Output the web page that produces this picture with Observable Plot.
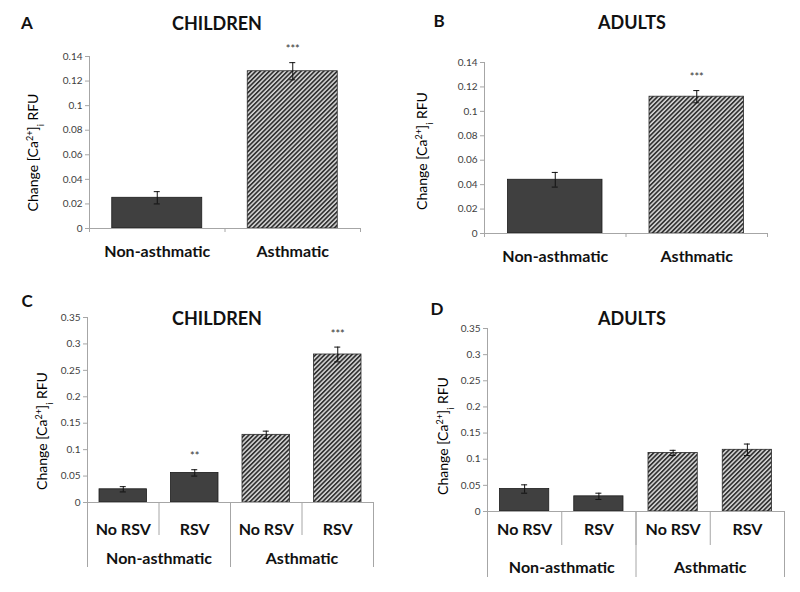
<!DOCTYPE html>
<html><head><meta charset="utf-8">
<script src="https://cdn.jsdelivr.net/npm/d3@7"></script>
<script src="https://cdn.jsdelivr.net/npm/@observablehq/plot@0.6"></script>
<style>
body{margin:0;background:#fff;font-family:Lato,sans-serif}
#root{position:relative;width:800px;height:592px;overflow:hidden;background:#fff}
.panel{position:absolute}
.lbl{position:absolute;transform:translate(-50%,-50%);font-weight:bold;color:#111;white-space:nowrap;line-height:1}
</style></head><body><div id="root"></div>
<script>
// ---- data ----
const yTicksAB = [0, 0.02, 0.04, 0.06, 0.08, 0.1, 0.12, 0.14];
const yTicksCD = [0, 0.05, 0.1, 0.15, 0.2, 0.25, 0.3, 0.35];
const groupsAB = ["Non-asthmatic", "Asthmatic"];
const childrenMean = [0.025, 0.128];
const childrenErr = [0.005, 0.007];
const childrenSig = ["", "***"];
const adultsMean = [0.044, 0.112];
const adultsErr = [0.006, 0.005];
const adultsSig = ["", "***"];
const rsvLabels = ["No RSV", "RSV", "No RSV", "RSV"];
const rsvGroups = ["Non-asthmatic", "Non-asthmatic", "Asthmatic", "Asthmatic"];
const childrenRsvMean = [0.025, 0.056, 0.128, 0.280];
const childrenRsvErr = [0.005, 0.006, 0.007, 0.014];
const childrenRsvSig = ["", "**", "", "***"];
const adultsRsvMean = [0.043, 0.029, 0.112, 0.118];
const adultsRsvErr = [0.008, 0.006, 0.005, 0.011];
const adultsRsvSig = ["", "", "", ""];
const panelLetters = ["A", "B", "C", "D"];
const panelTitles = ["CHILDREN", "ADULTS", "CHILDREN", "ADULTS"];
const yLabel = "Change [Ca2+]i RFU";

// ---- layout ----
const AXIS = "#a6a6a6";
const panels = [
  {id:"A", left:0, top:0, width:400, height:280, ml:89, mr:40, mt:56, mb:52, yTicks:yTicksAB,
   mean:childrenMean, err:childrenErr, sig:childrenSig, groups:groupsAB, subs:null, inset:22.75,
   labPad:17, labX:-56, labY:10, title:[217,23], letter:[27,22]},
  {id:"B", left:400, top:0, width:400, height:280, ml:84, mr:33, mt:62, mb:47, yTicks:yTicksAB,
   mean:adultsMean, err:adultsErr, sig:adultsSig, groups:groupsAB, subs:null, inset:23.5,
   labPad:17, labX:-62, labY:3, title:[232,22], letter:[39,20]},
  {id:"C", left:0, top:280, width:400, height:312, ml:87, mr:27, mt:37, mb:90, yTicks:yTicksCD,
   mean:childrenRsvMean, err:childrenRsvErr, sig:childrenRsvSig, groups:rsvGroups, subs:rsvLabels, inset:12,
   subPad:21, subLen:33, grpPad:50, grpLen:65, labX:-45, labY:21, title:[217,38], letter:[27,20]},
  {id:"D", left:400, top:280, width:400, height:312, ml:87, mr:16, mt:48, mb:81, yTicks:yTicksCD,
   mean:adultsRsvMean, err:adultsRsvErr, sig:adultsRsvSig, groups:rsvGroups, subs:rsvLabels, inset:12.5,
   subPad:12, subLen:34, grpPad:50, grpLen:66, labX:-44, labY:16, title:[232,38], letter:[37,28]}
];

const root = document.getElementById("root");
const fmt = d => String(+d.toFixed(2));

panels.forEach((cfg, k) => {
  const rows = cfg.mean.map((m, i) => ({i, mean:m, err:cfg.err[i], sig:cfg.sig[i], group:cfg.groups[i], sub:cfg.subs ? cfg.subs[i] : null}));
  const n = rows.length;
  const hatch = "hatch" + cfg.id;
  const marks = [
    Plot.ruleX([0], {stroke: AXIS}),
    Plot.axisY({ticks: cfg.yTicks, tickSize: 4, tickPadding: 3, tickFormat: fmt, fontSize: 10, fill: "#404040", stroke: AXIS, label: null}),
    Plot.rectY(rows, {filter: d => d.group !== "Asthmatic", x1: "i", x2: d => d.i + 1, y: "mean",
      insetLeft: cfg.inset, insetRight: cfg.inset, fill: "#404040", stroke: "#1c1c1c", strokeWidth: 0.8}),
    Plot.rectY(rows, {filter: d => d.group === "Asthmatic", x1: "i", x2: d => d.i + 1, y: "mean",
      insetLeft: cfg.inset, insetRight: cfg.inset, fill: `url(#${hatch})`, stroke: "#2a2a2a", strokeWidth: 0.8}),
    Plot.ruleY([0], {stroke: AXIS}),
    Plot.ruleX(rows, {x: d => d.i + 0.5, y1: d => d.mean - d.err, y2: d => d.mean + d.err, stroke: "#111", strokeWidth: 1}),
    Plot.ruleY(rows, {x1: d => d.i + 0.5, x2: d => d.i + 0.5, y: d => d.mean + d.err, insetLeft: -3, insetRight: -3, stroke: "#111"}),
    Plot.ruleY(rows, {x1: d => d.i + 0.5, x2: d => d.i + 0.5, y: d => d.mean - d.err, insetLeft: -3, insetRight: -3, stroke: "#111"}),
    Plot.text(rows, {x: d => d.i + 0.5, y: d => d.mean + d.err, text: "sig", dy: -13, fontSize: 11, fill: "#333"}),
    Plot.text([yLabel], {frameAnchor: "left", textAnchor: "middle", rotate: -90, dx: cfg.labX, dy: cfg.labY, fontSize: 14, fill: "#000"})
  ];
  const labStyle = {fontSize: 16, fontWeight: "bold", fill: "#111", label: null};
  if (!cfg.subs) {
    marks.push(
      Plot.axisX({ticks: d3.range(n + 1), tickSize: 4, tickFormat: () => "", stroke: AXIS, label: null}),
      Plot.axisX({ticks: rows.map(d => d.i + 0.5), tickSize: 0, tickPadding: cfg.labPad, tickFormat: t => cfg.groups[Math.floor(t)], ...labStyle})
    );
  } else {
    const starts = rows.filter((d, i) => i === 0 || cfg.groups[i - 1] !== d.group).map(d => d.i);
    const bounds = starts.concat([n]);
    const centers = starts.map((s, j) => (s + bounds[j + 1]) / 2);
    marks.push(
      Plot.axisX({ticks: d3.range(n + 1), tickSize: cfg.subLen, tickFormat: () => "", stroke: AXIS, label: null}),
      Plot.axisX({ticks: bounds, tickSize: cfg.grpLen, tickFormat: () => "", stroke: AXIS, label: null}),
      Plot.axisX({ticks: rows.map(d => d.i + 0.5), tickSize: 0, tickPadding: cfg.subPad, tickFormat: t => cfg.subs[Math.floor(t)], ...labStyle}),
      Plot.axisX({ticks: centers, tickSize: 0, tickPadding: cfg.grpPad, tickFormat: t => cfg.groups[Math.floor(t)], ...labStyle})
    );
  }
  const svg = Plot.plot({
    width: cfg.width, height: cfg.height,
    marginLeft: cfg.ml, marginRight: cfg.mr, marginTop: cfg.mt, marginBottom: cfg.mb,
    style: {fontFamily: "Lato, sans-serif", background: "transparent", overflow: "visible"},
    x: {domain: [0, n], axis: null},
    y: {domain: [0, cfg.yTicks[cfg.yTicks.length - 1]], axis: null},
    marks
  });
  // hatch pattern
  const defs = d3.select(svg).insert("defs", ":first-child");
  const p = defs.append("pattern").attr("id", hatch).attr("patternUnits", "userSpaceOnUse")
    .attr("width", 3.2).attr("height", 3.2).attr("patternTransform", "rotate(45)");
  p.append("rect").attr("width", 3.2).attr("height", 3.2).attr("fill", "#d6d6d6");
  p.append("rect").attr("x", 0).attr("y", 0).attr("width", 1.7).attr("height", 3.2).attr("fill", "#333333");
  // superscript / subscript in y label
  d3.select(svg).selectAll("text").filter(function() { return this.textContent === yLabel; }).each(function() {
    const t = d3.select(this);
    t.text(null);
    t.append("tspan").text("Change [Ca");
    t.append("tspan").attr("baseline-shift", "super").attr("font-size", 9).text("2+");
    t.append("tspan").text("]");
    t.append("tspan").attr("baseline-shift", "sub").attr("font-size", 9).text("i");
    t.append("tspan").text(" RFU");
  });
  const wrap = document.createElement("div");
  wrap.className = "panel";
  wrap.style.left = cfg.left + "px";
  wrap.style.top = cfg.top + "px";
  wrap.appendChild(svg);
  const title = document.createElement("div");
  title.className = "lbl";
  title.style.left = cfg.title[0] + "px"; title.style.top = cfg.title[1] + "px";
  title.style.fontSize = "18px";
  title.textContent = panelTitles[k];
  wrap.appendChild(title);
  const letter = document.createElement("div");
  letter.className = "lbl";
  letter.style.left = cfg.letter[0] + "px"; letter.style.top = cfg.letter[1] + "px";
  letter.style.fontSize = "17px";
  letter.textContent = panelLetters[k];
  wrap.appendChild(letter);
  root.appendChild(wrap);
});
</script></body></html>
